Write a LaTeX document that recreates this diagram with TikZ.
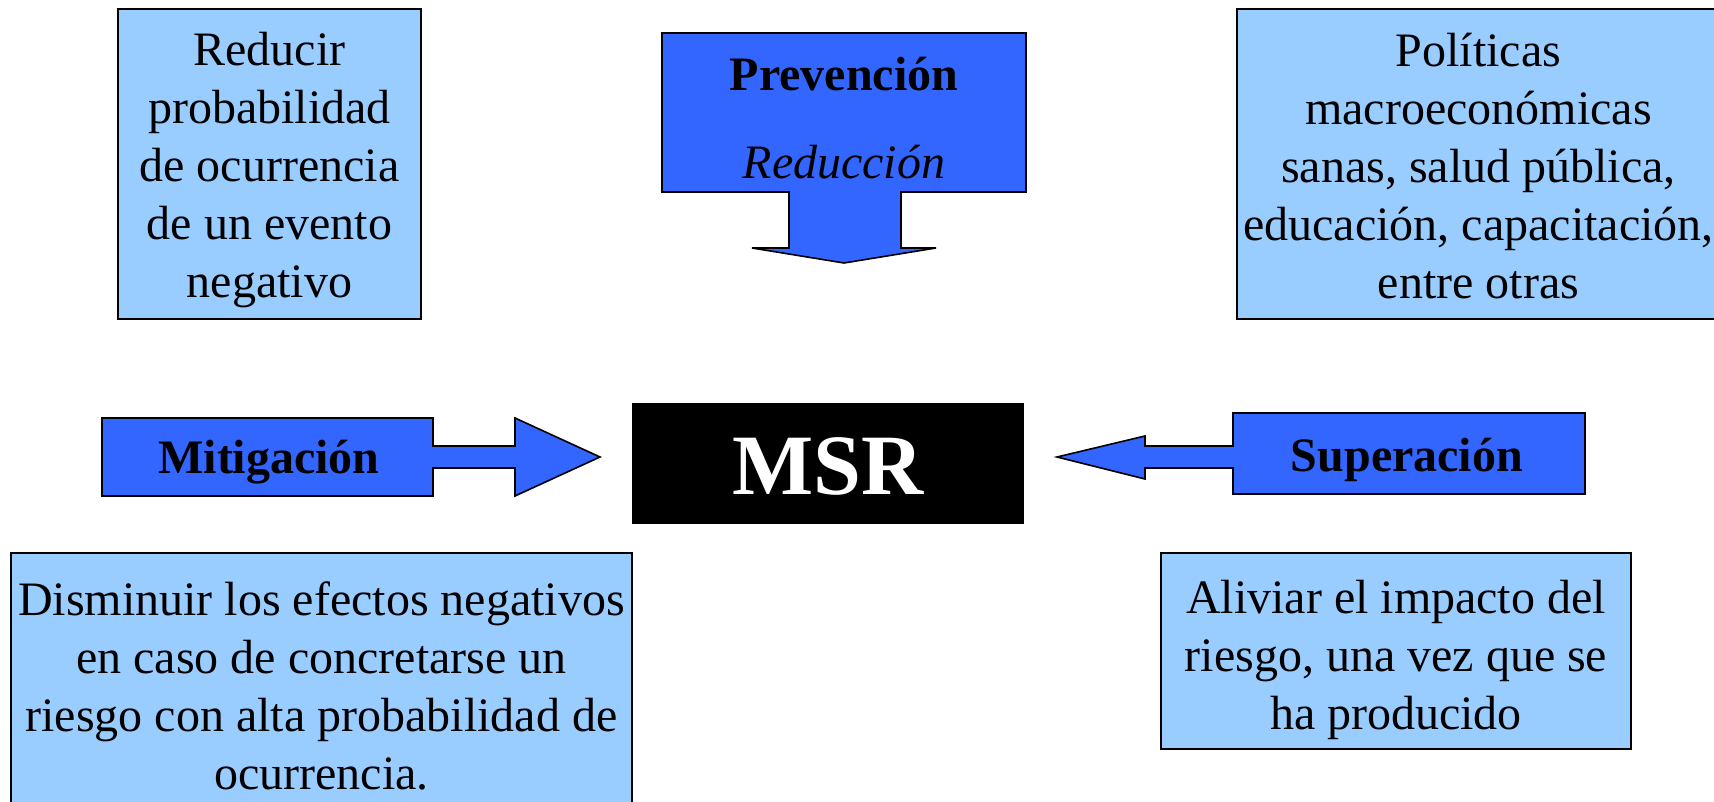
\documentclass[tikz,border=0pt]{standalone}
\usepackage{fontspec}
\setmainfont{Liberation Serif}
\definecolor{darkblue}{RGB}{51,102,255}
\definecolor{lightblue}{RGB}{153,204,255}
\begin{document}
\begin{tikzpicture}[x=0.5pt,y=-0.5pt,
  lbox/.style={draw=black, line width=0.8pt, fill=lightblue, inner sep=0pt},
  ltext/.style={align=center, inner sep=0pt, font=\fontsize{24}{29}\selectfont},
  bshape/.style={draw=black, line width=0.8pt, fill=darkblue, line join=miter},
  blabel/.style={font=\fontsize{24}{29}\selectfont\bfseries, inner sep=0pt},
]
\useasboundingbox (0,0) rectangle (1714,802);

% light boxes
\node[lbox, minimum width=151.5pt, minimum height=155pt] (reducirbox) at (269.5,164) {};
\node[lbox, minimum width=241.5pt, minimum height=155pt] (politicasbox) at (1478.5,164) {};
\node[lbox, minimum width=310.5pt, minimum height=133pt] (disminuirbox) at (321.5,686) {};
\node[lbox, minimum width=235pt, minimum height=98pt] (aliviarbox) at (1396,651) {};

% their texts
\node[ltext] (reducir) at (269.5,170.5)
  {Reducir\\probabilidad\\de ocurrencia\\de un evento\\negativo};
\node[ltext] (politicas) at (1478.5,166.5)
  {Políticas\\macroeconómicas\\sanas, salud pública,\\educación, capacitación,\\entre otras};
\node[ltext] (disminuir) at (321.5,686)
  {Disminuir los efectos negativos\\en caso de concretarse un\\riesgo con alta probabilidad de\\ocurrencia.};
\node[ltext] (aliviar) at (1396,659.5)
  {Aliviar el impacto del\\riesgo, una vez que se\\ha producido};

% central box
\node[fill=black, minimum width=196pt, minimum height=60.5pt, inner sep=0pt] (msrbox) at (828,463.5) {};
\node[text=white, inner sep=0pt, font=\fontsize{43}{50}\selectfont\bfseries] (msr) at (828,466) {MSR};

% Prevención arrow
\draw[bshape] (662,33) -- (1026,33) -- (1026,192) -- (901,192) -- (901,248) -- (936,248)
  -- (844,263) -- (752,248) -- (789,248) -- (789,192) -- (662,192) -- cycle;
\node[blabel] (prev) at (844,74) {Prevención};
\node[font=\fontsize{24}{29}\selectfont\itshape, inner sep=0pt] (reduc) at (844,162) {Reducción};

% Mitigación arrow
\draw[bshape] (102,418) -- (433,418) -- (433,446) -- (515,446) -- (515,418) -- (600,457)
  -- (515,496) -- (515,468) -- (433,468) -- (433,496) -- (102,496) -- cycle;
\node[blabel] (mitig) at (269,462.5) {Mitigación};

% Superación arrow
\draw[bshape] (1585,413) -- (1585,494) -- (1233,494) -- (1233,468) -- (1145,468) -- (1145,479)
  -- (1057,457) -- (1145,436) -- (1145,446) -- (1233,446) -- (1233,413) -- cycle;
\node[blabel] (super) at (1407,459.5) {Superación};
\end{tikzpicture}
\end{document}
